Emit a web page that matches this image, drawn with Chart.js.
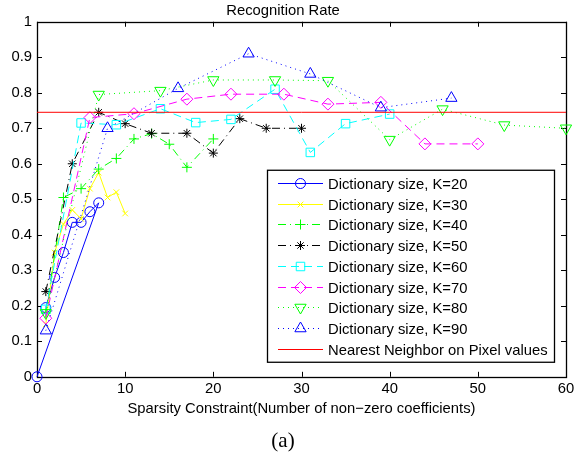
<!DOCTYPE html>
<html>
<head>
<meta charset="utf-8">
<script src="https://cdn.jsdelivr.net/npm/chart.js@4.4.0/dist/chart.umd.min.js"></script>
<style>
  html, body { margin: 0; padding: 0; background: #fff; }
</style>
</head>
<body>
<canvas id="myChart" width="581" height="463"></canvas>
<script>
// Recognition rate vs sparsity constraint, one curve per dictionary size

// sparsity values (x) and recognition rates (y)
const k20X = [1, 2, 3, 4, 5, 6, 7, 0];
const k20Y = [0.195, 0.28, 0.35, 0.435, 0.435, 0.465, 0.49, 0];

const k30X = [1, 2, 3, 4, 5, 6, 7, 8, 9, 10];
const k30Y = [0.148, 0.35, 0.43, 0.47, 0.445, 0.53, 0.575, 0.505, 0.52, 0.46];

const k40X = [1, 3, 5, 7, 9, 11, 13, 15, 17, 20];
const k40Y = [0.18, 0.505, 0.53, 0.585, 0.615, 0.67, 0.685, 0.655, 0.59, 0.67];

const k50X = [1, 4, 7, 10, 13, 17, 20, 23, 26, 30];
const k50Y = [0.24, 0.6, 0.745, 0.713, 0.686, 0.686, 0.63, 0.727, 0.7, 0.7];

const k60X = [1, 5, 9, 14, 18, 22, 27, 31, 35, 40];
const k60Y = [0.19, 0.715, 0.71, 0.755, 0.716, 0.725, 0.81, 0.632, 0.713, 0.74];

const k70X = [1, 6, 11, 17, 22, 28, 33, 39, 44, 50];
const k70Y = [0.165, 0.73, 0.741, 0.782, 0.796, 0.796, 0.768, 0.773, 0.656, 0.656];

const k80X = [1, 7, 14, 20, 27, 33, 40, 46, 53, 60];
const k80Y = [0.18, 0.795, 0.806, 0.836, 0.836, 0.834, 0.668, 0.754, 0.709, 0.7];

const k90X = [1, 8, 16, 24, 31, 39, 47];
const k90Y = [0.13, 0.7, 0.8125, 0.91, 0.853, 0.758, 0.785];

const nnX = [0, 60]; // nearest neighbour baseline
const nnY = [0.745, 0.745];

const seriesNames = [
  "Dictionary size, K=20",
  "Dictionary size, K=30",
  "Dictionary size, K=40",
  "Dictionary size, K=50",
  "Dictionary size, K=60",
  "Dictionary size, K=70",
  "Dictionary size, K=80",
  "Dictionary size, K=90",
  "Nearest Neighbor on Pixel values",
];

const xTicks = [0, 10, 20, 30, 40, 50, 60];

function toPoints(xs, ys) {
  return xs.map((x, i) => ({ x: x, y: ys[i] }));
}

const FONT = '"Liberation Sans", Arial, Helvetica, sans-serif';
const DOTTED = [1, 4];
const DASHED = [8, 5];
const DASHDOT = [8, 4, 1, 4];

const colors = ["#0000ff", "#ffff00", "#00ff00", "#000000", "#00ffff",
  "#ff00ff", "#00ff00", "#0000ff", "#ff0000"];
const dashes = [[], [], DASHDOT, DASHDOT, DASHED, DASHED, DOTTED, DOTTED, []];
const markers = ["circle", "crossRot", "cross", "star", "rect", "rectRot",
  "triangle", "triangle", false];
const markerSize = [5, 4, 5, 4.5, 6, 6, 6.5, 6.5, 0];
const markerTurn = [0, 0, 0, 0, 0, 0, 180, 0, 0];

const xsAll = [k20X, k30X, k40X, k50X, k60X, k70X, k80X, k90X, nnX];
const ysAll = [k20Y, k30Y, k40Y, k50Y, k60Y, k70Y, k80Y, k90Y, nnY];

const datasets = seriesNames.map((name, i) => ({
  label: name,
  data: toPoints(xsAll[i], ysAll[i]),
  showLine: true,
  borderColor: colors[i],
  backgroundColor: "rgba(0,0,0,0)",
  borderWidth: 1,
  borderDash: dashes[i],
  pointStyle: markers[i] || "circle",
  pointRadius: markerSize[i],
  pointRotation: markerTurn[i],
  pointBorderColor: colors[i],
  pointBackgroundColor: "rgba(0,0,0,0)",
  pointBorderWidth: 1,
  clip: false,
  order: seriesNames.length - i, // later series on top, like matlab
}));

// box, inward ticks and the legend drawn matlab style
const matlabAxes = {
  id: "matlabAxes",
  beforeDatasetsDraw(chart) {
    const ctx = chart.ctx;
    const a = chart.chartArea;
    const xs = chart.scales.x;
    const ys = chart.scales.y;
    const len = 5;
    ctx.save();
    ctx.strokeStyle = "#000";
    ctx.lineWidth = 1;
    ctx.beginPath();
    xs.ticks.forEach((t) => {
      const px = Math.round(xs.getPixelForValue(t.value)) + 0.5;
      ctx.moveTo(px, a.bottom);
      ctx.lineTo(px, a.bottom - len);
      ctx.moveTo(px, a.top);
      ctx.lineTo(px, a.top + len);
    });
    ys.ticks.forEach((t) => {
      const py = Math.round(ys.getPixelForValue(t.value)) + 0.5;
      ctx.moveTo(a.left, py);
      ctx.lineTo(a.left + len, py);
      ctx.moveTo(a.right, py);
      ctx.lineTo(a.right - len, py);
    });
    ctx.stroke();
    ctx.lineWidth = 1.3;
    ctx.strokeRect(Math.round(a.left) + 0.5, Math.round(a.top) + 0.5,
      Math.round(a.right - a.left), Math.round(a.bottom - a.top));
    ctx.restore();
  },
  afterDatasetsDraw(chart) {
    const ctx = chart.ctx;
    const a = chart.chartArea;
    const left = a.right - 299;
    const top = a.top + 148;
    const w = 287;
    const h = 192;
    const rowH = 20.75;
    ctx.save();
    ctx.setLineDash([]);
    ctx.fillStyle = "#fff";
    ctx.fillRect(left, top, w, h);
    ctx.strokeStyle = "#000";
    ctx.lineWidth = 1.3;
    ctx.strokeRect(left + 0.5, top + 0.5, w, h);
    seriesNames.forEach((name, i) => {
      const y = Math.round(top + 13 + i * rowH) + 0.5;
      ctx.save();
      ctx.strokeStyle = colors[i];
      ctx.lineWidth = 1;
      ctx.setLineDash(dashes[i]);
      ctx.beginPath();
      ctx.moveTo(left + 11, y);
      ctx.lineTo(left + 56, y);
      ctx.stroke();
      ctx.restore();
      if (markers[i]) {
        ctx.save();
        ctx.setLineDash([]);
        ctx.strokeStyle = colors[i];
        ctx.fillStyle = "rgba(0,0,0,0)";
        ctx.lineWidth = 1;
        Chart.helpers.drawPoint(ctx, {
          pointStyle: markers[i],
          radius: markerSize[i],
          rotation: markerTurn[i],
          borderWidth: 1,
        }, left + 33.5, y);
        ctx.restore();
      }
      ctx.fillStyle = "#000";
      ctx.font = "14.8px " + FONT;
      ctx.textBaseline = "middle";
      ctx.textAlign = "left";
      ctx.fillText(name, left + 61, y + 1);
    });
    ctx.restore();
  },
};

Chart.defaults.font.family = FONT;
Chart.defaults.color = "#000";

const ctx = document.getElementById("myChart");
const myChart = new Chart(ctx, {
  type: "scatter",
  data: { datasets: datasets },
  options: {
    responsive: false,
    animation: false,
    events: [],
    layout: { padding: { left: 0, right: 15, top: 0, bottom: 0 } },
    scales: {
      x: {
        type: "linear",
        min: 0,
        max: 60,
        afterBuildTicks: (scale) => {
          scale.ticks = xTicks.map((v) => ({ value: v }));
        },
        afterFit: (scale) => {
          scale.height = 46;
        },
        grid: { display: false, drawTicks: false },
        border: { display: false },
        ticks: { padding: 3, font: { size: 14.8 }, maxRotation: 0 },
        title: {
          display: true,
          text: "Sparsity Constraint(Number of non\u2212zero coefficients)",
          font: { size: 14.8 },
          padding: { top: 0, bottom: 5 },
        },
      },
      y: {
        type: "linear",
        min: 0,
        max: 1,
        afterFit: (scale) => {
          scale.width = 37;
        },
        grid: { display: false, drawTicks: false },
        border: { display: false },
        ticks: {
          stepSize: 0.1,
          padding: 5,
          font: { size: 14.8 },
          callback: (v) => String(Number(v.toFixed(1))),
        },
      },
    },
    plugins: {
      legend: { display: false },
      tooltip: { enabled: false },
      colors: { enabled: false },
      title: {
        display: true,
        text: "Recognition Rate",
        font: { size: 14.8, weight: "normal" },
        padding: { top: 2, bottom: 2 },
      },
      subtitle: {
        display: true,
        position: "bottom",
        text: "(a)",
        font: { family: '"Liberation Serif", "Times New Roman", serif', size: 21 },
        padding: { top: 6, bottom: 9 },
      },
    },
  },
  plugins: [matlabAxes],
});
</script>
</body>
</html>
